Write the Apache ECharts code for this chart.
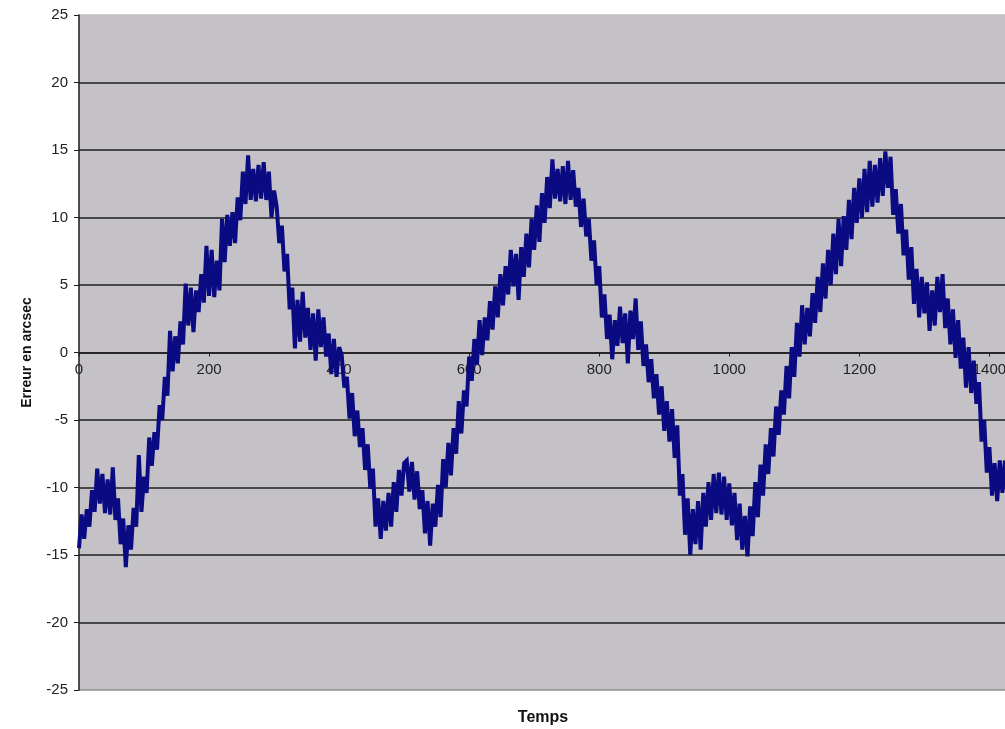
<!DOCTYPE html>
<html>
<head>
<meta charset="utf-8">
<script src="https://cdn.jsdelivr.net/npm/echarts@6/dist/echarts.min.js"></script>
<style>
html,body{margin:0;padding:0;background:#fff;}
#chart{width:1005px;height:729px;}
</style>
</head>
<body>
<div id="chart"></div>
<script>
// Sampling step of the time axis (Temps)
var timeStep = 4;

// Erreur en arcsec, one value every 4 time units
var erreur0to100 = [-14.5, -12.0, -13.8, -11.6, -12.9, -10.2, -11.8, -8.6, -11.2, -9.0, -11.9, -9.4, -12.0, -8.5, -12.4, -10.8, -14.2, -12.3, -15.9, -12.8, -14.6, -11.5, -12.9, -7.6, -11.8, -9.2];
var erreur104to200 = [-10.4, -6.3, -8.4, -5.9, -7.2, -3.9, -5.0, -1.8, -3.2, 1.6, -1.4, 1.2, -0.8, 2.3, 0.6, 5.1, 2.0, 4.8, 1.5, 4.6, 3.0, 5.8, 3.7, 7.9, 4.2];
var erreur204to300 = [7.6, 4.1, 6.8, 4.6, 9.9, 6.7, 10.2, 7.9, 10.4, 8.1, 11.5, 9.8, 13.4, 11.0, 14.6, 11.3, 13.6, 11.2, 13.9, 11.4, 14.1, 11.3, 13.4, 10.0, 12.0];
var erreur304to400 = [10.8, 8.1, 9.4, 6.0, 7.3, 3.2, 4.8, 0.3, 3.9, 0.8, 4.5, 1.1, 3.3, 0.2, 2.9, -0.6, 3.2, 0.4, 2.6, -0.3, 1.4, -1.6, 1.0, -1.8, 0.4];
var erreur404to500 = [-0.2, -2.6, -1.8, -4.9, -3.0, -6.2, -4.3, -7.0, -5.6, -8.7, -6.8, -10.1, -8.6, -12.9, -10.8, -13.8, -11.0, -13.2, -10.4, -12.9, -9.6, -11.8, -8.7, -10.6, -8.2];
var erreur504to600 = [-8.0, -10.3, -8.1, -10.9, -8.8, -11.6, -10.2, -13.4, -11.0, -14.3, -11.2, -12.9, -9.8, -12.2, -7.9, -10.0, -6.7, -9.1, -5.6, -7.5, -3.6, -6.0, -2.8, -4.0, -0.3];
var erreur604to700 = [-2.1, 1.0, -0.9, 2.4, -0.2, 2.6, 0.9, 3.8, 1.7, 4.9, 2.6, 5.8, 3.5, 6.4, 4.3, 7.6, 4.9, 7.3, 3.9, 7.8, 5.6, 8.8, 6.3, 9.9, 7.6];
var erreur704to800 = [10.9, 8.2, 11.8, 9.6, 13.0, 10.7, 14.3, 11.4, 13.6, 11.2, 13.8, 11.0, 14.2, 11.3, 13.5, 10.8, 12.2, 9.3, 11.4, 8.6, 9.9, 6.8, 8.3, 5.0, 6.4];
var erreur804to900 = [2.6, 4.3, 1.0, 2.8, -0.5, 2.4, 0.5, 3.4, 0.7, 2.9, -0.8, 3.1, 1.0, 4.0, 0.2, 2.3, -1.0, 0.6, -2.2, -0.5, -3.4, -1.6, -4.6, -2.5, -5.8];
var erreur904to1000 = [-3.6, -6.6, -4.2, -7.8, -5.4, -10.6, -9.0, -13.5, -10.8, -15.0, -11.6, -14.2, -11.0, -14.6, -10.4, -12.9, -9.6, -12.4, -9.0, -11.9, -8.9, -12.0, -9.2, -12.4, -9.7];
var erreur1004to1100 = [-12.8, -10.4, -13.9, -11.2, -14.6, -12.1, -15.1, -11.4, -13.6, -9.6, -12.2, -8.3, -10.6, -6.8, -9.0, -5.6, -7.7, -4.0, -6.1, -2.8, -4.6, -1.0, -3.4, 0.4, -1.8];
var erreur1104to1200 = [2.2, -0.3, 3.5, 0.6, 3.3, 1.2, 4.4, 2.2, 5.6, 3.0, 6.6, 4.0, 7.6, 5.0, 8.8, 5.8, 9.9, 6.4, 10.1, 7.6, 11.3, 8.4, 12.2, 9.6, 12.9];
var erreur1204to1300 = [10.0, 13.6, 10.4, 14.2, 10.8, 13.9, 11.1, 14.4, 11.6, 14.9, 12.2, 14.5, 10.2, 12.1, 8.8, 11.0, 7.2, 9.1, 5.4, 7.8, 3.6, 6.2, 2.6, 5.6, 2.9];
var erreur1304to1424 = [5.2, 1.6, 4.6, 2.0, 5.6, 3.0, 5.8, 1.8, 4.0, 0.6, 3.2, -0.4, 2.4, -1.2, 1.1, -2.6, 0.4, -3.0, -0.6, -3.8, -2.2, -6.6, -5.0, -8.9, -7.0, -10.6, -8.2, -11.0, -8.0, -10.4, -8.0];

var yTicks = [-25, -20, -15, -10, -5, 0, 5, 10, 15, 20, 25];
var xTicks = [0, 200, 400, 600, 800, 1000, 1200, 1400];

var erreur = [].concat(erreur0to100, erreur104to200, erreur204to300, erreur304to400,
  erreur404to500, erreur504to600, erreur604to700, erreur704to800, erreur804to900,
  erreur904to1000, erreur1004to1100, erreur1104to1200, erreur1204to1300, erreur1304to1424);
var seriesData = erreur.map(function (v, i) { return [i * timeStep, v]; });

var plotBg = '#C4C2C7';
var gridColors = yTicks.map(function (t, i) {
  if (i === 0) return '#8c8c8c';
  if (i === yTicks.length - 1) return plotBg;
  return '#1e1e1e';
});
var fontFam = '"Liberation Sans", Arial, sans-serif';

var chart = echarts.init(document.getElementById('chart'), null, {renderer: 'canvas'});
chart.setOption({
  backgroundColor: '#ffffff',
  animation: false,
  grid: {
    left: 79, right: 0, top: 15, bottom: 39,
    outerBoundsMode: 'none',
    containLabel: false,
    show: true, backgroundColor: plotBg, borderWidth: 0
  },
  xAxis: {
    type: 'value',
    min: 0,
    max: 1424,
    interval: 200,
    position: 'bottom',
    offset: -337.5,
    axisLine: {onZero: false, lineStyle: {color: '#1e1e1e', width: 1.5}},
    axisTick: {show: true, length: 4, lineStyle: {color: '#1e1e1e'}},
    axisLabel: {
      color: '#222', fontFamily: fontFam, fontSize: 15, margin: 10,
      showMaxLabel: false,
      formatter: function (v) { return xTicks.indexOf(v) >= 0 ? String(v) : ''; }
    },
    splitLine: {show: false}
  },
  yAxis: {
    type: 'value',
    min: -25,
    max: 25,
    interval: 5,
    name: 'Erreur en arcsec',
    nameLocation: 'middle',
    nameGap: 45,
    nameRotate: 90,
    nameTextStyle: {color: '#111', fontFamily: fontFam, fontSize: 14, fontWeight: 'bold'},
    axisLine: {show: true, lineStyle: {color: '#1e1e1e', width: 1.5}},
    axisTick: {show: true, length: 5, inside: false, lineStyle: {color: '#1e1e1e'}},
    axisLabel: {
      color: '#222', fontFamily: fontFam, fontSize: 15, margin: 11,
      formatter: function (v) { return yTicks.indexOf(v) >= 0 ? String(v) : ''; }
    },
    splitLine: {show: true, lineStyle: {color: gridColors, width: 1.5}}
  },
  graphic: [{
    type: 'text',
    x: 543,
    y: 718,
    style: {text: 'Temps', fill: '#111', font: 'bold 16px ' + fontFam, textAlign: 'center', textVerticalAlign: 'middle'}
  }],
  series: [{
    type: 'line',
    data: seriesData,
    showSymbol: false,
    symbol: 'none',
    sampling: null,
    clip: true,
    lineStyle: {color: '#0A0A82', width: 4, join: 'miter', miterLimit: 3},
    z: 5
  }]
});
</script>
</body>
</html>
